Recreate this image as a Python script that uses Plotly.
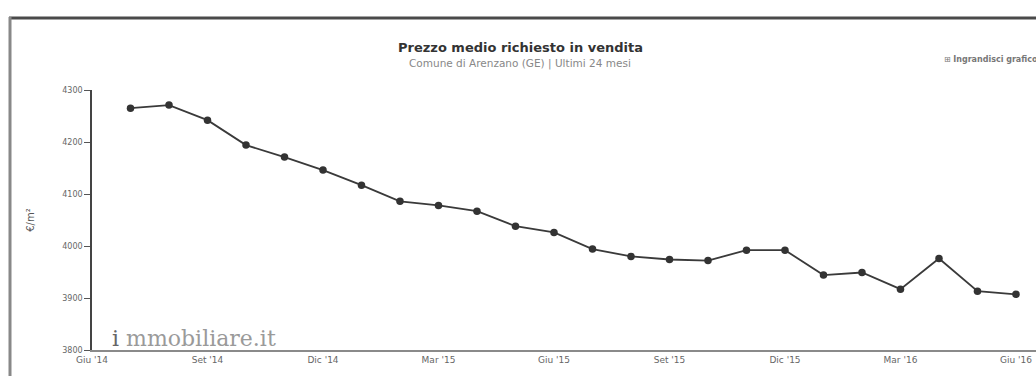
import plotly.graph_objects as go

months = ["Lug '14", "Ago '14", "Set '14", "Ott '14", "Nov '14", "Dic '14",
          "Gen '15", "Feb '15", "Mar '15", "Apr '15", "Mag '15", "Giu '15",
          "Lug '15", "Ago '15", "Set '15", "Ott '15", "Nov '15", "Dic '15",
          "Gen '16", "Feb '16", "Mar '16", "Apr '16", "Mag '16", "Giu '16"]
month_index = list(range(1, 25))
prices = [4265, 4271, 4242, 4194, 4171, 4146, 4117, 4086, 4078, 4067, 4038, 4026,
          3994, 3980, 3974, 3972, 3992, 3992, 3944, 3949, 3917, 3976, 3913, 3907]
tick_positions = [0, 3, 6, 9, 12, 15, 18, 21, 24]
tick_labels = ["Giu '14", "Set '14", "Dic '14", "Mar '15", "Giu '15",
               "Set '15", "Dic '15", "Mar '16", "Giu '16"]
y_ticks = [3800, 3900, 4000, 4100, 4200, 4300]

W, H = 1036, 376
ML, MR, MT, MB = 92, 0, 90, 26
PW = W - ML - MR
PH = H - MT - MB

def px(x):
    return (x - ML) / PW

def py(y):
    return (H - MB - y) / PH

fig = go.Figure()
fig.add_trace(go.Scatter(
    x=month_index, y=prices, mode="lines+markers",
    line=dict(color="#3a3a3a", width=1.8),
    marker=dict(color="#333333", size=7.5, symbol="circle"),
    text=months, hoverinfo="text+y", showlegend=False))

fig.update_layout(
    width=W, height=H,
    margin=dict(l=ML, r=MR, t=MT, b=MB),
    paper_bgcolor="white", plot_bgcolor="white",
    font=dict(family="DejaVu Sans", color="#555"),
    xaxis=dict(range=[0, 24.52], tickvals=tick_positions, ticktext=tick_labels,
               showgrid=False, zeroline=False, showline=True, linecolor="#8a8a8a",
               linewidth=2, ticks="", tickfont=dict(size=9, color="#666")),
    yaxis=dict(range=[3800, 4300], tickvals=y_ticks, showgrid=False, zeroline=False,
               showline=True, linecolor="#444", linewidth=1.5, ticks="outside",
               ticklen=6, tickcolor="#555", tickfont=dict(size=8, color="#666"),
               title=dict(text="€/m²", font=dict(size=10, color="#555"), standoff=26)),
    shapes=[
        dict(type="line", xref="paper", yref="paper", x0=px(9), x1=px(1036),
             y0=py(18), y1=py(18), line=dict(color="#4a4a4a", width=3)),
        dict(type="line", xref="paper", yref="paper", x0=px(10), x1=px(10),
             y0=py(17), y1=py(376), line=dict(color="#888", width=3)),
    ],
    annotations=[
        dict(text="<b>Prezzo medio richiesto in vendita</b>", xref="paper", yref="paper",
             x=px(520), y=py(48), showarrow=False, font=dict(size=13, color="#333"),
             xanchor="center", yanchor="middle"),
        dict(text="Comune di Arenzano (GE) | Ultimi 24 mesi", xref="paper", yref="paper",
             x=px(520), y=py(64), showarrow=False, font=dict(size=10.5, color="#888"),
             xanchor="center", yanchor="middle"),
        dict(text="⊞ <b>Ingrandisci grafico</b>", xref="paper", yref="paper",
             x=px(1040), y=py(60), showarrow=False, font=dict(size=8, color="#777"),
             xanchor="right", yanchor="middle"),
        dict(text="<span style='color:#666'>i</span> mmobiliare.it", xref="paper", yref="paper",
             x=px(110), y=py(338), showarrow=False,
             font=dict(family="DejaVu Serif", size=22, color="#9a9a9a"),
             xanchor="left", yanchor="middle"),
    ],
)

fig.write_html("out.html")
